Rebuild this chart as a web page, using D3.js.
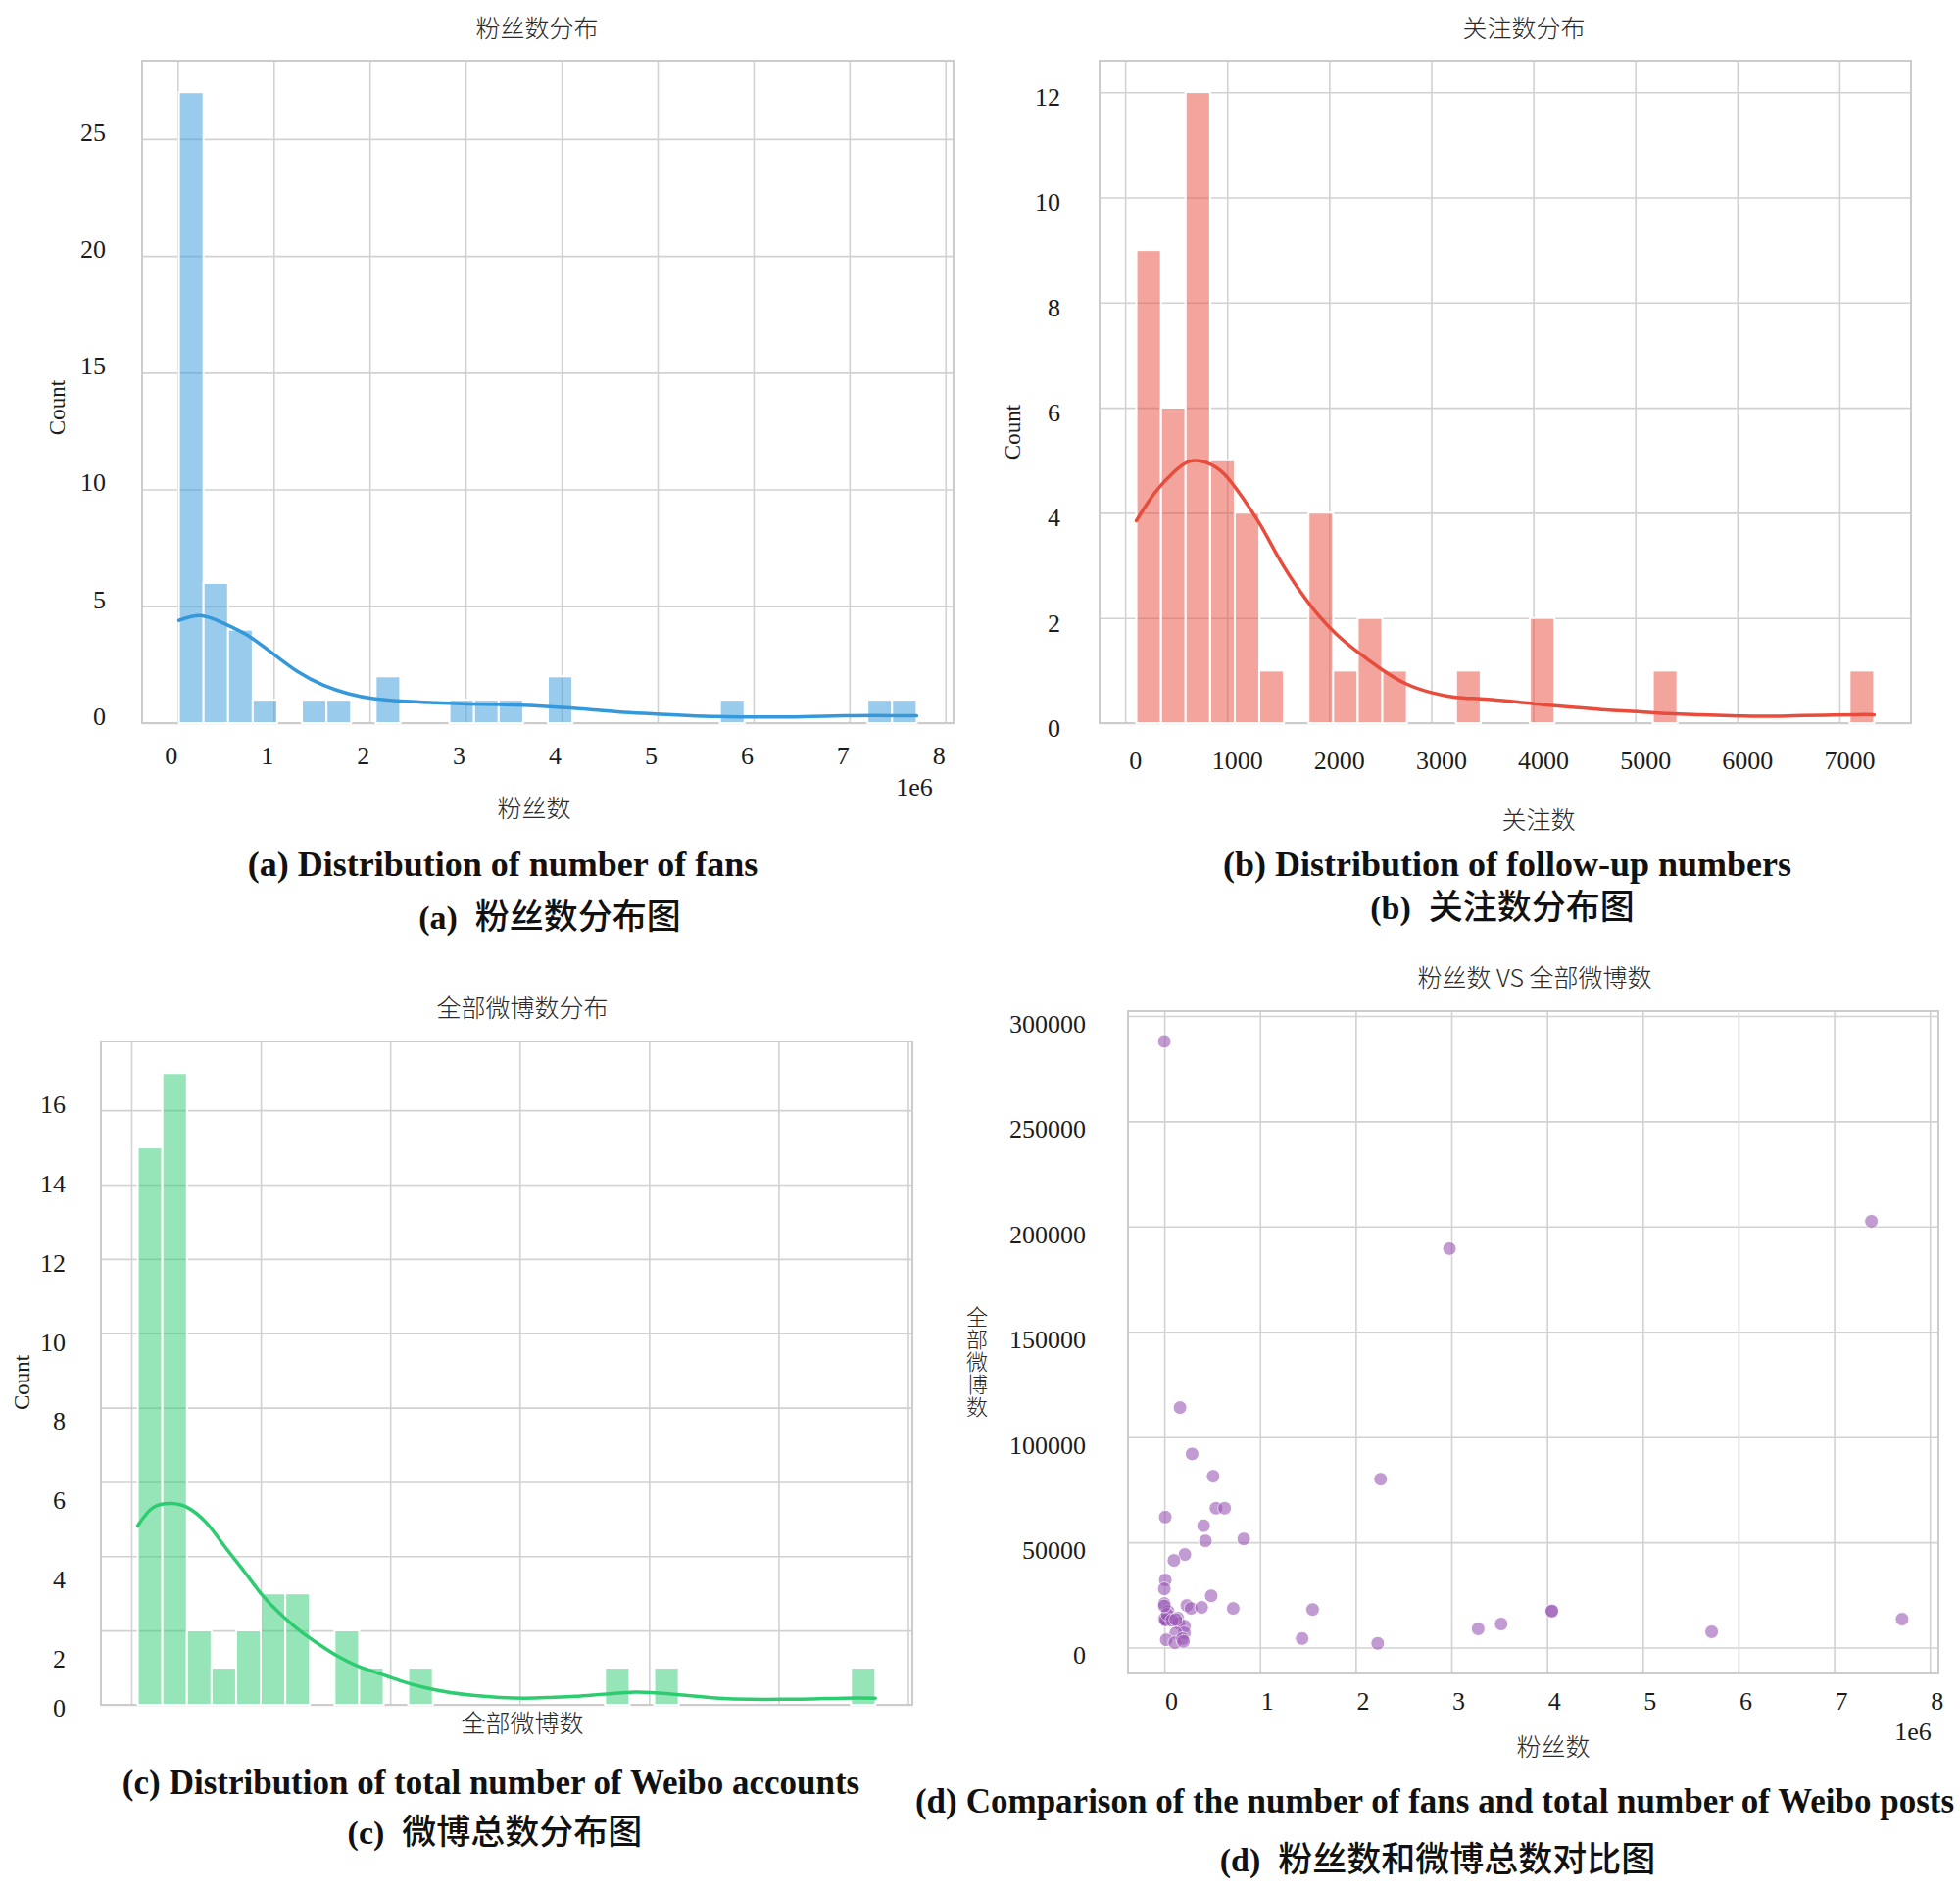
<!DOCTYPE html>
<html>
<head>
<meta charset="utf-8">
<script src="https://cdn.jsdelivr.net/npm/d3@7"></script>
<style>
  body { margin: 0; background: #fff; }
</style>
</head>
<body>
<svg id="fig" width="2000" height="1929"></svg>
<script>
// values (30 bins per histogram)
const fansCounts = [27, 6, 4, 1, 0, 1, 1, 0, 2, 0, 0, 1, 1, 1, 0, 2, 0, 0, 0, 0, 0, 0, 1, 0, 0, 0, 0, 0, 1, 1];
const fansRange = [13000, 7700000];
const fansKdeX = [13000, 240000, 480000, 730000, 990000, 1250000, 1520000, 1780000, 2040000, 2370000, 2690000, 3020000, 3350000,
  3670000, 4000000, 4330000, 4650000, 4980000, 5300000, 5630000, 5960000, 6290000, 6610000, 6940000, 7270000, 7700000];
const fansKdeY = [4.4, 4.6, 4.27, 3.75, 2.98, 2.2, 1.62, 1.26, 1.05, 0.93, 0.87, 0.82, 0.8,
  0.75, 0.67, 0.57, 0.46, 0.39, 0.33, 0.28, 0.26, 0.26, 0.28, 0.31, 0.33, 0.31];

const followCounts = [9, 6, 12, 5, 4, 1, 0, 4, 1, 2, 1, 0, 0, 1, 0, 0, 2, 0, 0, 0, 0, 1, 0, 0, 0, 0, 0, 0, 0, 1];
const followRange = [110, 7341];
const followKdeX = [110, 290, 480, 630, 790, 970, 1150, 1340, 1520, 1710, 1890, 2070, 2260, 2500, 2750, 3000,
  3240, 3490, 3800, 4100, 4410, 4710, 5020, 5330, 5640, 5940, 6250, 6560, 6860, 7170, 7341];
const followKdeY = [3.85, 4.38, 4.78, 4.98, 4.96, 4.74, 4.29, 3.72, 3.09, 2.52, 2.06, 1.69, 1.38, 1.04, 0.75, 0.58,
  0.49, 0.46, 0.41, 0.35, 0.30, 0.25, 0.22, 0.18, 0.16, 0.14, 0.13, 0.14, 0.15, 0.16, 0.16];

const weiboCounts = [15, 17, 2, 1, 2, 3, 3, 0, 2, 1, 0, 1, 0, 0, 0, 0, 0, 0, 0, 1, 0, 1, 0, 0, 0, 0, 0, 0, 0, 1];
const weiboRange = [2500, 287450];
const weiboKdeX = [2500, 8450, 15700, 21700, 29000, 36200, 43500, 50700, 58000, 65200, 72500, 79700, 86900, 94200,
  103800, 113500, 123200, 132800, 142500, 152100, 161800, 171500, 181100, 190800, 195600, 205300, 214900, 227000,
  239100, 251200, 263200, 275300, 287400];
const weiboKdeY = [4.82, 5.31, 5.42, 5.31, 4.9, 4.25, 3.6, 2.94, 2.42, 1.99, 1.63, 1.31, 1.06, 0.88,
  0.65, 0.46, 0.33, 0.25, 0.2, 0.18, 0.2, 0.23, 0.28, 0.33, 0.34, 0.31, 0.25, 0.18,
  0.15, 0.15, 0.16, 0.18, 0.18];

const scatterFans = [0, 164000, 290000, 510000, 540000, 630000, 10000, 410000, 430000, 830000,
  215000, 100000, 10000, 0, 490000, 0, 235000, 280000, 390000, 720000,
  40000, 0, 5000, 20000, 140000, 150000, 210000, 210000, 120000, 20000,
  110000, 190000, 200000, 2260000, 2980000, 1550000, 1440000, 2230000, 3280000, 3520000,
  4050000, 4050000, 5720000, 7390000, 7710000, 10000, 30000, 80000, 120000, 0];
const scatterWeibo = [287900, 114000, 92000, 81400, 66200, 66200, 62000, 57900, 50700, 51600,
  44200, 41400, 32100, 27900, 24600, 20900, 20000, 18600, 19100, 18600,
  17200, 13500, 13800, 13000, 14000, 11600, 10200, 7000, 7000, 3700,
  2300, 4200, 2900, 80000, 189500, 18100, 4300, 2000, 8900, 11200,
  17200, 17400, 7500, 202500, 13500, 13200, 15800, 12900, 13300, 19800];

const fansTicks = [0, 1e6, 2e6, 3e6, 4e6, 5e6, 6e6, 7e6, 8e6];
const followTicks = [0, 1000, 2000, 3000, 4000, 5000, 6000, 7000];
const weiboTicks = [0, 50000, 100000, 150000, 200000, 250000, 300000];
const countTicksA = [0, 5, 10, 15, 20, 25];
const countTicksB = [0, 2, 4, 6, 8, 10, 12];
const countTicksC = [0, 2, 4, 6, 8, 10, 12, 14, 16];

const SERIF = "'Liberation Serif', 'Times New Roman', serif";
const CJK = "'Noto Sans CJK SC', 'Noto Sans', sans-serif";
const GRID = '#d2d2d2';
const INK = '#1c1c1c';

const svg = d3.select('#fig');
const fmtPlain = d3.format('d');

function panel(box, xDomain, yDomain, xTicks, yTicks) {
  const x = d3.scaleLinear().domain(xDomain).range([box.L, box.R]);
  const y = d3.scaleLinear().domain(yDomain).range([box.B, box.T]);
  const g = svg.append('g');

  g.append('g')
    .attr('transform', `translate(0,${box.B})`)
    .call(d3.axisBottom(x).tickValues(xTicks).tickSize(-(box.B - box.T)).tickFormat(''))
    .call(s => s.select('.domain').remove())
    .selectAll('line').attr('stroke', GRID).attr('stroke-width', 1.6);

  g.append('g')
    .attr('transform', `translate(${box.L},0)`)
    .call(d3.axisLeft(y).tickValues(yTicks).tickSize(-(box.R - box.L)).tickFormat(''))
    .call(s => s.select('.domain').remove())
    .selectAll('line').attr('stroke', GRID).attr('stroke-width', 1.6);

  g.append('rect')
    .attr('x', box.L).attr('y', box.T)
    .attr('width', box.R - box.L).attr('height', box.B - box.T)
    .attr('fill', 'none').attr('stroke', '#cccccc').attr('stroke-width', 2);

  return { g, x, y, box };
}

function hist(p, counts, range, color) {
  const w = (range[1] - range[0]) / counts.length;
  const bins = counts.map((c, i) => ({ c, x0: range[0] + i * w, x1: range[0] + (i + 1) * w }));
  p.g.append('g').selectAll('rect')
    .data(bins.filter(b => b.c > 0))
    .join('rect')
    .attr('x', b => p.x(b.x0))
    .attr('width', b => p.x(b.x1) - p.x(b.x0))
    .attr('y', b => p.y(b.c))
    .attr('height', b => p.y(0) - p.y(b.c))
    .attr('fill', color)
    .attr('fill-opacity', 0.5)
    .attr('stroke', '#fff')
    .attr('stroke-width', 2);
}

function kde(p, xs, ys, color) {
  const line = d3.line()
    .x(i => p.x(xs[i]))
    .y(i => p.y(ys[i]))
    .curve(d3.curveNatural);
  p.g.append('path')
    .attr('d', line(d3.range(xs.length)))
    .attr('fill', 'none')
    .attr('stroke', color)
    .attr('stroke-width', 3.5)
    .attr('stroke-linecap', 'round');
}

function xLabels(p, ticks, fmt, pad, dx) {
  p.g.append('g')
    .attr('transform', `translate(0,${p.box.B})`)
    .call(d3.axisBottom(p.x).tickValues(ticks).tickSize(0).tickPadding(pad).tickFormat(fmt))
    .call(s => s.select('.domain').remove())
    .selectAll('text')
    .attr('font-family', SERIF).attr('font-size', 26).attr('fill', INK)
    .attr('transform', `translate(${dx},0)`);
}

function yLabels(p, ticks, pad, dy, scale) {
  p.g.append('g')
    .attr('transform', `translate(${p.box.L},0)`)
    .call(d3.axisLeft(scale || p.y).tickValues(ticks).tickSize(0).tickPadding(pad).tickFormat(fmtPlain))
    .call(s => s.select('.domain').remove())
    .selectAll('text')
    .attr('font-family', SERIF).attr('font-size', 26).attr('fill', INK)
    .attr('transform', `translate(0,${dy})`);
}

function label(x, y, txt, opts = {}) {
  const t = svg.append('text')
    .attr('x', x).attr('y', y)
    .attr('text-anchor', 'middle')
    .attr('dominant-baseline', 'central')
    .attr('font-family', opts.family || CJK)
    .attr('font-size', opts.size || 25)
    .attr('font-weight', opts.weight || 300)
    .attr('fill', opts.fill || '#2a2a2a')
    .text(txt);
  if (opts.rotate) t.attr('transform', `rotate(-90,${x},${y})`);
  return t;
}

function caption(cx, baseline, tag, rest, cjk, size) {
  const t = svg.append('text')
    .attr('x', cx).attr('y', baseline)
    .attr('text-anchor', 'middle')
    .attr('fill', '#111');
  t.append('tspan')
    .attr('font-family', SERIF).attr('font-weight', 'bold').attr('font-size', cjk ? 34 : size)
    .text(tag);
  t.append('tspan')
    .attr('dx', cjk ? 18 : 9)
    .attr('font-family', cjk ? CJK : SERIF)
    .attr('font-weight', cjk ? 500 : 'bold')
    .attr('font-size', cjk ? 35 : size)
    .text(rest);
}

// (a) fans histogram
const pa = panel({ L: 145, R: 973, T: 62, B: 738 }, [-371000, 8084000], [0, 28.35], fansTicks, countTicksA);
hist(pa, fansCounts, fansRange, '#3498db');
kde(pa, fansKdeX, fansKdeY, '#3498db');
xLabels(pa, fansTicks, d => fmtPlain(d / 1e6), 24, -7);
yLabels(pa, countTicksA, 37, -7);
label(933, 803, '1e6', { family: SERIF, size: 26, weight: 400, fill: INK });
label(548, 27, '粉丝数分布');
label(545, 823, '粉丝数');
label(58, 416, 'Count', { family: SERIF, size: 23, weight: 400, rotate: true, fill: INK });
caption(513, 894, '(a)', 'Distribution of number of fans', false, 36);
caption(561, 948, '(a)', '粉丝数分布图', true);

// (b) follow histogram
const pb = panel({ L: 1122, R: 1950, T: 62, B: 738 }, [-251, 7702], [0, 12.6], followTicks, countTicksB);
hist(pb, followCounts, followRange, '#e74c3c');
kde(pb, followKdeX, followKdeY, '#e74c3c');
xLabels(pb, followTicks, fmtPlain, 29, 10);
yLabels(pb, countTicksB, 40, 5);
label(1555, 27, '关注数分布');
label(1570, 835, '关注数');
label(1033, 441, 'Count', { family: SERIF, size: 23, weight: 400, rotate: true, fill: INK });
caption(1538, 894, '(b)', 'Distribution of follow-up numbers', false, 36);
caption(1533, 938, '(b)', '关注数分布图', true);

// (c) weibo histogram (x tick labels hidden in the original)
const pc = panel({ L: 103, R: 931, T: 1063, B: 1740 }, [-11730, 301700], [0, 17.85], weiboTicks, countTicksC);
hist(pc, weiboCounts, weiboRange, '#2ecc71');
kde(pc, weiboKdeX, weiboKdeY, '#2ecc71');
const cLabelY = d3.scaleLinear()
  .domain([0, 2, 16])
  .range([pc.y(0) + 3, pc.y(2) + 29, pc.y(16) - 6]);
yLabels(pc, countTicksC, 36, 0, cLabelY);
label(533, 1027, '全部微博数分布');
label(533, 1757, '全部微博数');
label(22, 1411, 'Count', { family: SERIF, size: 23, weight: 400, rotate: true, fill: INK });
caption(501, 1831, '(c)', 'Distribution of total number of Weibo accounts', false, 35);
caption(505, 1882, '(c)', '微博总数分布图', true);

// (d) fans vs weibo scatter
const pd = panel({ L: 1151, R: 1978, T: 1032, B: 1708 }, [-380000, 8090000], [-12300, 302300], fansTicks, weiboTicks);
pd.g.append('g').selectAll('circle')
  .data(d3.range(scatterFans.length))
  .join('circle')
  .attr('cx', i => pd.x(scatterFans[i]))
  .attr('cy', i => pd.y(scatterWeibo[i]))
  .attr('r', 7)
  .attr('fill', '#9b59b6')
  .attr('stroke', '#fff')
  .attr('stroke-width', 1)
  .attr('opacity', 0.6);
xLabels(pd, fansTicks, d => fmtPlain(d / 1e6), 19, 7);
yLabels(pd, weiboTicks, 43, 8);
label(1952, 1767, '1e6', { family: SERIF, size: 26, weight: 400, fill: INK });
label(1566, 996, '粉丝数 VS 全部微博数');
label(1585, 1781, '粉丝数');
// y label is set upright, one character under the other
svg.append('text')
  .attr('x', 997).attr('y', 1333)
  .attr('font-family', CJK).attr('font-size', 22).attr('font-weight', 300)
  .attr('fill', '#2a2a2a')
  .style('writing-mode', 'vertical-rl')
  .style('text-orientation', 'upright')
  .style('letter-spacing', '1px')
  .text('全部微博数');
caption(1464, 1850, '(d)', 'Comparison of the number of fans and total number of Weibo posts', false, 35);
caption(1467, 1910, '(d)', '粉丝数和微博总数对比图', true);
</script>
</body>
</html>
